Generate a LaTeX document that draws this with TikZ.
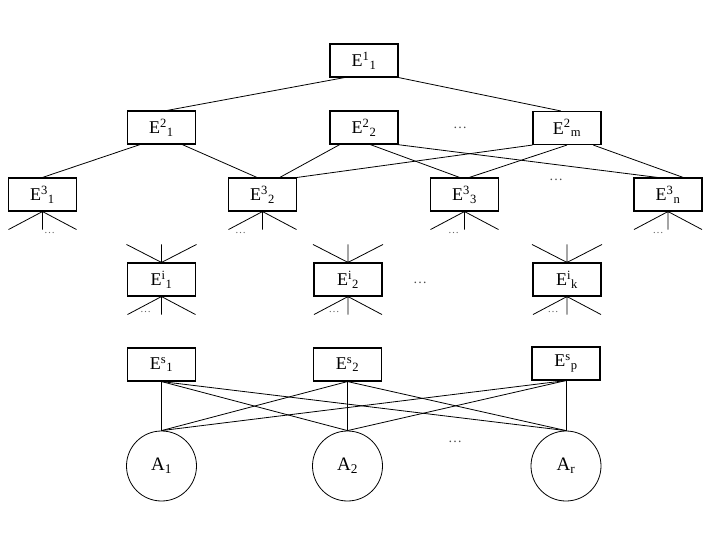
\documentclass[tikz,border=0pt]{standalone}
\usepackage{fontspec}
\setmainfont{Liberation Serif}
\usetikzlibrary{calc}
\tikzset{
  box/.style={draw, line width=1.1pt, minimum width=68pt, minimum height=33pt, inner sep=0pt, font=\fontsize{18}{20}\selectfont},
  leaf/.style={draw, circle, line width=0.8pt, minimum size=70pt, inner sep=0pt, font=\fontsize{19}{21}\selectfont},
  edge/.style={line width=0.8pt},
  bigdots/.style={font=\fontsize{14}{16}\selectfont, inner sep=0pt, text=black!70},
  smalldots/.style={font=\fontsize{11}{13}\selectfont, inner sep=0pt, text=black!60},
}
\begin{document}
\begin{tikzpicture}[x=1pt,y=-1pt]
\useasboundingbox (0,0) rectangle (720,540);
% level 1
\node[box] (E11) at (364,60.5) {E\textsuperscript{1}\textsubscript{1}};
% level 2
\node[box] (E21) at (161.5,127.5) {E\textsuperscript{2}\textsubscript{1}};
\node[box] (E22) at (364,127.5) {E\textsuperscript{2}\textsubscript{2}};
\node[box] (E2m) at (567,128) {E\textsuperscript{2}\textsubscript{m}};
\node[bigdots] (d2) at (460,128) {\ldots};
% level 3
\node[box] (E31) at (42.5,194.5) {E\textsuperscript{3}\textsubscript{1}};
\node[box] (E32) at (262.5,194.5) {E\textsuperscript{3}\textsubscript{2}};
\node[box] (E33) at (464.5,194.5) {E\textsuperscript{3}\textsubscript{3}};
\node[box] (E3n) at (668,194.5) {E\textsuperscript{3}\textsubscript{n}};
\node[bigdots] (d3) at (556,180) {\ldots};
% level i
\node[box] (Ei1) at (161.5,279.5) {E\textsuperscript{i}\textsubscript{1}};
\node[box] (Ei2) at (348,279.5) {E\textsuperscript{i}\textsubscript{2}};
\node[box] (Eik) at (567,279.5) {E\textsuperscript{i}\textsubscript{k}};
\node[bigdots] (di) at (420,283) {\ldots};
% level s
\node[box] (Es1) at (161.5,364.5) {E\textsuperscript{s}\textsubscript{1}};
\node[box] (Es2) at (347.5,364.5) {E\textsuperscript{s}\textsubscript{2}};
\node[box] (Esp) at (566,363.5) {E\textsuperscript{s}\textsubscript{p}};
% alternatives
\node[leaf] (A1) at (161.5,466) {A\textsubscript{1}};
\node[leaf] (A2) at (347.5,466) {A\textsubscript{2}};
\node[leaf] (Ar) at (566,466) {A\textsubscript{r}};
\node[bigdots] (da) at (455,442) {\ldots};

% level 1 -> 2
\draw[edge] ($(E11.south west)!0.22!(E11.south east)$) -- ($(E21.north west)!0.58!(E21.north east)$);
\draw[edge] (E11.south east) -- ($(E2m.north west)!0.41!(E2m.north east)$);
% level 2 -> 3
\draw[edge] ($(E21.south west)!0.19!(E21.south east)$) -- ($(E31.north west)!0.5!(E31.north east)$);
\draw[edge] ($(E21.south west)!0.8!(E21.south east)$) -- ($(E32.north west)!0.42!(E32.north east)$);
\draw[edge] ($(E22.south west)!0.15!(E22.south east)$) -- ($(E32.north west)!0.75!(E32.north east)$);
\draw[edge] ($(E22.south west)!0.59!(E22.south east)$) -- ($(E33.north west)!0.43!(E33.north east)$);
\draw[edge] ($(E22.south west)!0.98!(E22.south east)$) -- ($(E3n.north west)!0.35!(E3n.north east)$);
\draw[edge] (E2m.south west) -- (E32.north east);
\draw[edge] (E2m.south) -- ($(E33.north west)!0.57!(E33.north east)$);
\draw[edge] ($(E2m.south west)!0.88!(E2m.south east)$) -- ($(E3n.north west)!0.72!(E3n.north east)$);

% fans below
\foreach \n in {E31,E32,E33,E3n,Ei1,Ei2,Eik} {
  \draw[edge] (\n.south) -- ++(-34,18) (\n.south) -- ++(0,18) (\n.south) -- ++(34,18);
}
% fans above
\foreach \n in {Ei1,Ei2,Eik} {
  \draw[edge] (\n.north) -- ++(-35,-18) (\n.north) -- ++(0,-18) (\n.north) -- ++(35,-18);
}
% dots under fans
\node[smalldots] (f31) at ($(E31.south)+(7,21)$) {\ldots};
\node[smalldots] (f32) at ($(E32.south)+(-22,21)$) {\ldots};
\node[smalldots] (f33) at ($(E33.south)+(-11,21)$) {\ldots};
\node[smalldots] (f3n) at ($(E3n.south)+(-10,21)$) {\ldots};
\node[smalldots] (fi1) at ($(Ei1.south)+(-16,15)$) {\ldots};
\node[smalldots] (fi2) at ($(Ei2.south)+(-14,15)$) {\ldots};
\node[smalldots] (fik) at ($(Eik.south)+(-14,15)$) {\ldots};

% level s -> alternatives
\foreach \s in {Es1,Es2,Esp} {
  \foreach \a in {A1,A2,Ar} {
    \draw[edge] (\s.south) -- (\a.north);
  }
}
\end{tikzpicture}
\end{document}
